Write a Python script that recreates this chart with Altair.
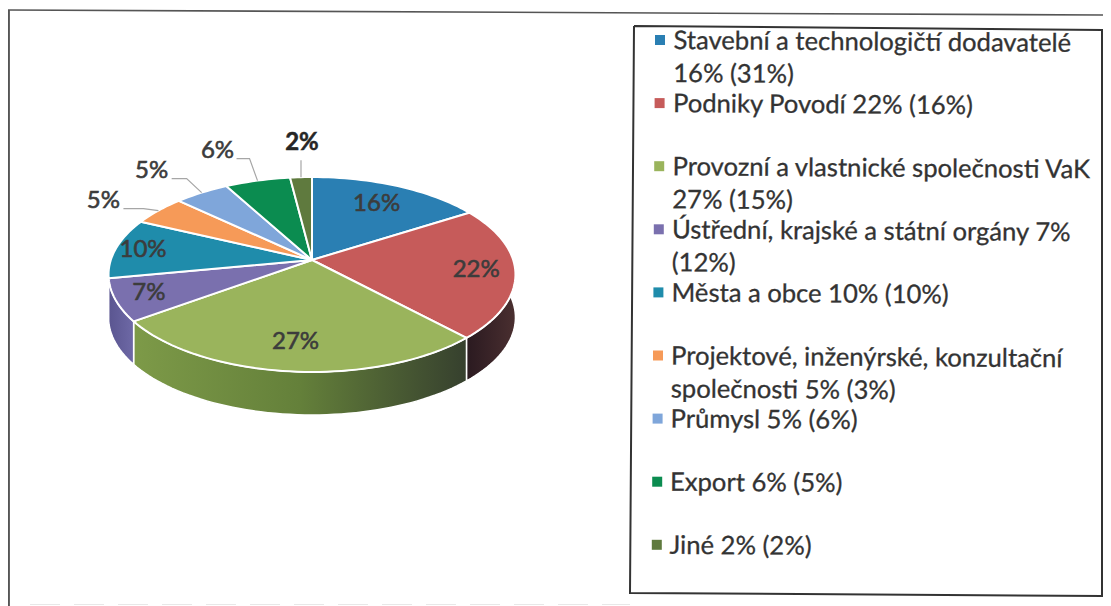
import math
import altair as alt
import pandas as pd

# ---- data ----
names = ["Stavební a technologičtí dodavatelé\n16% (31%)", "Podniky Povodí 22% (16%)",
         "Provozní a vlastnické společnosti VaK\n27% (15%)", "Ústřední, krajské a státní orgány 7%\n(12%)",
         "Města a obce 10% (10%)", "Projektové, inženýrské, konzultační\nspolečnosti 5% (3%)",
         "Průmysl 5% (6%)", "Export 6% (5%)", "Jiné 2% (2%)"]
shares = [16, 22, 27, 7, 10, 5, 5, 6, 2]
colors = ["#2a7fb3", "#c65b5a", "#9ab45c", "#7a70ae", "#1f8cab", "#f69a58", "#7fa6da", "#0b8c50", "#5f7a3e"]
# ---- layout ----
CX, CY, RX, RY, PERSP, DEPTH = 312, 260, 201.2, 95.3, 0.1487, 43
inner_r = {0: 0.73, 1: 0.81, 2: 0.77, 3: 0.84, 4: 0.86}
outer_off = {5: (-55, -10), 6: (-50, -22), 7: (-40, -30), 8: (1, -34)}
elbow_off = {5: ((-15, -2), (-35, -2)), 6: ((-15, -14), (-30, -14)), 7: ((-8, -22), (-21, -22)), 8: ((0, -17), (0, -17))}
wall_fill = {
    1: [("#2a1a20", 0), ("#3a2428", 0.5), ("#4a2f30", 1)],
    2: [("#7d9a48", 0), ("#64803a", 0.5), ("#36402e", 1)],
    3: [("#5a5590", 0), ("#6e69a6", 1)],
}

def proj(share, r=1.0):
    a = share / 100 * 2 * math.pi
    x, y = r * math.sin(a), r * math.cos(a)
    w = 1 + PERSP * y
    return CX + RX * x / w, CY - RY * y / w

X = alt.X("x:Q", scale=alt.Scale(domain=[8, 1103], range=[0, 1095]), axis=None)
Y = alt.Y("y:Q", scale=alt.Scale(domain=[8, 606], range=[0, 598]), axis=None)
O = alt.Order("o:Q")

def outline(pts):
    return pd.DataFrame([{"x": p[0], "y": p[1], "o": i} for i, p in enumerate(pts)])

layers = []
# frame
frames = [([(8, 10), (1103, 15)], 1.6, "#555", None), ([(8.8, 10), (8.8, 606)], 2.2, "#555", None),
          ([(30, 604.5), (630, 604.5)], 1, "#e8e8e8", [30, 14]),
          ([(634, 26), (1102, 30), (1102, 596), (630, 593), (634, 26)], 2, "#333", None)]
for pts, sw, col, dash in frames:
    kw = {"strokeDash": dash} if dash else {}
    layers.append(alt.Chart(outline(pts)).mark_line(stroke=col, strokeWidth=sw, **kw).encode(x=X, y=Y, order=O))

starts = [sum(shares[:i]) for i in range(len(shares))]
# walls
for i, stops in wall_fill.items():
    s0, s1 = starts[i], starts[i] + shares[i]
    n = max(int(shares[i] * 2), 8)
    arc = [proj(s0 + (s1 - s0) * k / n) for k in range(n + 1)]
    pts = arc + [(p[0], p[1] + DEPTH) for p in reversed(arc)] + [arc[0]]
    grad = alt.LinearGradient(gradient="linear", x1=0, x2=1, y1=0, y2=0,
                              stops=[alt.GradientStop(color=c, offset=o) for c, o in stops])
    layers.append(alt.Chart(outline(pts)).mark_line(fill=grad, stroke="#ffffff", strokeWidth=1.5, strokeJoin="round").encode(x=X, y=Y, order=O))

# tops
for i, v in enumerate(shares):
    s0 = starts[i]
    n = max(int(v * 2), 6)
    pts = [(CX, CY)] + [proj(s0 + v * k / n) for k in range(n + 1)] + [(CX, CY)]
    layers.append(alt.Chart(outline(pts)).mark_line(fill=colors[i], stroke="#ffffff", strokeWidth=2, strokeJoin="round").encode(x=X, y=Y, order=O))

# labels and leaders
rows = []
for i, v in enumerate(shares):
    mid = starts[i] + v / 2
    if i in inner_r:
        lx, ly = proj(mid, inner_r[i])
    else:
        ex, ey = proj(mid)
        lx, ly = ex + outer_off[i][0], ey + outer_off[i][1]
        e1, e2 = elbow_off[i]
        pts = [(ex, ey), (ex + e1[0], ey + e1[1]), (ex + e2[0], ey + e2[1])]
        layers.append(alt.Chart(outline(pts)).mark_line(stroke="#a6a6a6", strokeWidth=1.2).encode(x=X, y=Y, order=O))
    rows.append({"x": lx, "y": ly, "t": f"{v}%", "bold": i == 8})
ldf = pd.DataFrame(rows)
layers.append(alt.Chart(ldf[~ldf.bold]).mark_text(font="Lato", fontSize=24, color="#3c3c3c", stroke="#3c3c3c", strokeWidth=0.6, align="center", baseline="middle").encode(x=X, y=Y, text="t:N"))
layers.append(alt.Chart(ldf[ldf.bold]).mark_text(font="Lato", fontSize=24, fontWeight="bold", color="#262626", stroke="#262626", strokeWidth=0.5, align="center", baseline="middle").encode(x=X, y=Y, text="t:N"))

# legend
ROW0, STEP = 40, 63.1
leg = pd.DataFrame([{"x": 660 - i * 0.4, "tx": 673.5 - i * 0.5, "y": ROW0 + i * STEP, "ty": ROW0 + i * STEP + 9,
                     "t": n, "c": colors[i]} for i, n in enumerate(names)])
layers.append(alt.Chart(leg).mark_point(shape="square", filled=True, size=100, opacity=1).encode(
    x=X, y=Y, color=alt.Color("c:N", scale=None)))
layers.append(alt.Chart(leg).mark_text(font="Lato", fontSize=25.6, color="#333333", stroke="#333333", strokeWidth=0.3, align="left", baseline="alphabetic",
                                       lineBreak="\n", lineHeight=33, angle=0.4).encode(
    x=alt.X("tx:Q", scale=alt.Scale(domain=[8, 1103], range=[0, 1095]), axis=None),
    y=alt.Y("ty:Q", scale=alt.Scale(domain=[8, 606], range=[0, 598]), axis=None), text="t:N"))

chart = alt.layer(*layers).properties(width=1095, height=598, padding=0, background="#ffffff",
                                      autosize=alt.AutoSizeParams(type="none")).configure_view(stroke=None)
chart.save("out.html", embed_options={"renderer": "svg", "actions": False})
